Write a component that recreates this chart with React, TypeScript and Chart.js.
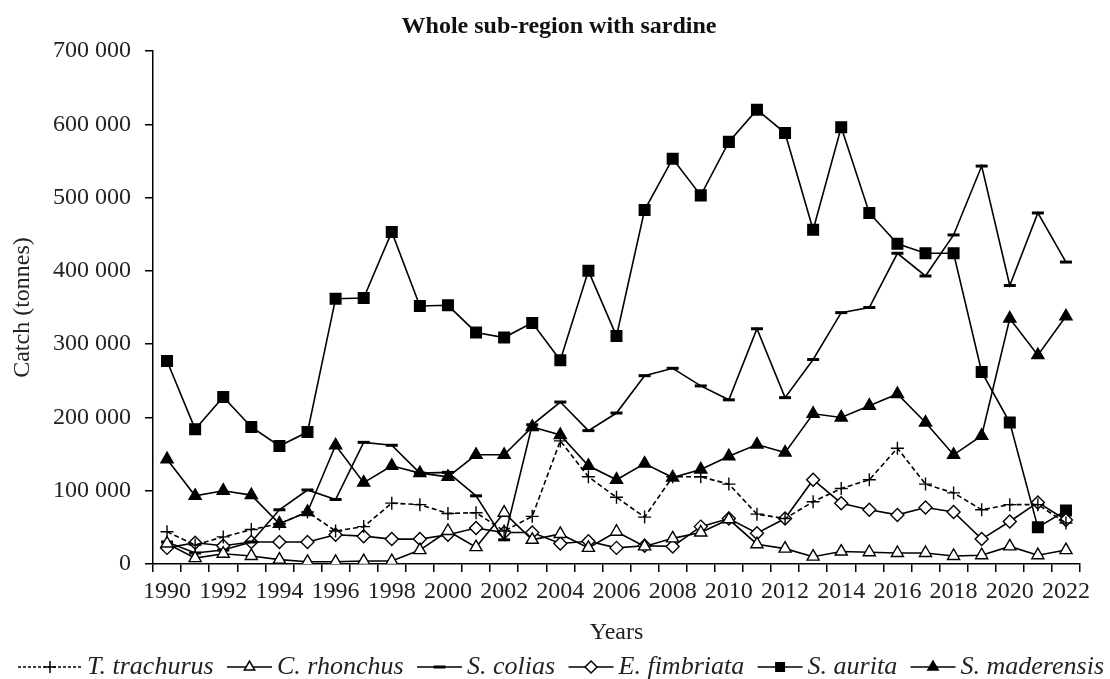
import React, { useEffect, useRef } from 'react';
import { Chart, registerables } from 'chart.js';

Chart.register(...registerables);

const FONT = "'Liberation Serif', 'Times New Roman', serif";

const years = [
  '1990', '1991', '1992', '1993', '1994', '1995', '1996', '1997', '1998', '1999',
  '2000', '2001', '2002', '2003', '2004', '2005', '2006', '2007', '2008', '2009',
  '2010', '2011', '2012', '2013', '2014', '2015', '2016', '2017', '2018', '2019',
  '2020', '2021', '2022',
];

const trachurus = [
  44000, 26000, 37000, 47000, 55000, 71000, 45000, 51000, 83000, 81000,
  69000, 70000, 45000, 65000, 168000, 119000, 91000, 64000, 119000, 119000,
  109000, 68000, 62000, 85000, 103000, 115000, 158000, 109000, 97000, 74000,
  81000, 81000, 56000,
];

const rhonchus = [
  28000, 8000, 14000, 11000, 6000, 3000, 3000, 4000, 4000, 19000,
  45000, 23000, 70000, 33000, 41000, 22000, 44000, 24000, 35000, 43000,
  61000, 27000, 21000, 10000, 17000, 16000, 15000, 15000, 11000, 12000,
  24000, 12000, 19000,
];

const colias = [
  30000, 15000, 19000, 30000, 74000, 101000, 88000, 166000, 162000, 124000,
  125000, 93000, 33000, 190000, 221000, 182000, 206000, 257000, 267000, 243000,
  224000, 321000, 227000, 279000, 343000, 350000, 424000, 393000, 449000, 543000,
  380000, 479000, 412000,
];

const fimbriata = [
  22000, 29000, 25000, 30000, 30000, 30000, 40000, 38000, 34000, 34000,
  40000, 49000, 43000, 43000, 28000, 31000, 22000, 25000, 24000, 51000,
  62000, 42000, 62000, 115000, 83000, 74000, 67000, 77000, 71000, 34000,
  58000, 84000, 60000,
];

const aurita = [
  277000, 184000, 228000, 187000, 161000, 180000, 362000, 363000, 453000, 352000,
  353000, 316000, 309000, 329000, 278000, 400000, 311000, 483000, 553000, 503000,
  576000, 620000, 588000, 456000, 596000, 479000, 437000, 424000, 424000, 262000,
  193000, 50000, 73000,
];

const maderensis = [
  143000, 93000, 100000, 94000, 55000, 71000, 162000, 111000, 134000, 124000,
  119000, 149000, 149000, 187000, 176000, 134000, 115000, 137000, 118000, 129000,
  147000, 163000, 152000, 205000, 200000, 216000, 232000, 193000, 149000, 175000,
  335000, 285000, 338000,
];

const yTickValues = [0, 100000, 200000, 300000, 400000, 500000, 600000, 700000];

const TITLE = 'Whole sub-region with sardine';

function drawMarker(ctx: CanvasRenderingContext2D, kind: string, x: number, y: number) {
  ctx.save();
  ctx.setLineDash([]);
  ctx.strokeStyle = '#000';
  ctx.lineWidth = 1.5;
  ctx.beginPath();
  if (kind === 'cross') {
    ctx.moveTo(x - 6, y); ctx.lineTo(x + 6, y);
    ctx.moveTo(x, y - 6); ctx.lineTo(x, y + 6);
    ctx.stroke();
  } else if (kind === 'triOpen' || kind === 'triFill') {
    const r = 6;
    ctx.moveTo(x, y - r);
    ctx.lineTo(x + r * 0.866, y + r * 0.5);
    ctx.lineTo(x - r * 0.866, y + r * 0.5);
    ctx.closePath();
    ctx.fillStyle = kind === 'triOpen' ? '#fff' : '#000';
    ctx.fill();
    ctx.stroke();
  } else if (kind === 'dash') {
    ctx.lineWidth = 3;
    ctx.moveTo(x - 6, y); ctx.lineTo(x + 6, y);
    ctx.stroke();
  } else if (kind === 'diamond') {
    const r = 6;
    ctx.moveTo(x, y - r); ctx.lineTo(x + r, y); ctx.lineTo(x, y + r); ctx.lineTo(x - r, y);
    ctx.closePath();
    ctx.fillStyle = '#fff';
    ctx.fill();
    ctx.stroke();
  } else if (kind === 'square') {
    ctx.fillStyle = '#000';
    ctx.fillRect(x - 5, y - 5, 10, 10);
  }
  ctx.restore();
}

const legendKinds = ['cross', 'triOpen', 'dash', 'diamond', 'square', 'triFill'];

const textPlugin = {
  id: 'textPlugin',
  afterDraw(chart: any) {
    const ctx: CanvasRenderingContext2D = chart.ctx;
    ctx.save();
    // title
    ctx.font = `bold 24px ${FONT}`;
    ctx.fillStyle = '#111';
    ctx.textAlign = 'center';
    ctx.textBaseline = 'alphabetic';
    ctx.fillText(TITLE, 559, 33);

    // legend
    ctx.font = `italic 26px ${FONT}`;
    ctx.textAlign = 'left';
    ctx.textBaseline = 'middle';
    const ds = chart.data.datasets;
    const sampleW = (i: number) => (i === 0 ? 64 : 45);
    const gapAfterSample = 5;
    let textTotal = 0;
    ds.forEach((d: any) => { textTotal += ctx.measureText(d.label).width; });
    let sampleTotal = 0;
    ds.forEach((_d: any, i: number) => { sampleTotal += sampleW(i) + gapAfterSample; });
    const left = 18;
    const right = 1104;
    const gapBetween = Math.max(8, (right - left - textTotal - sampleTotal) / (ds.length - 1));
    let x = left;
    const y = 667;
    ds.forEach((d: any, i: number) => {
      const w = sampleW(i);
      ctx.strokeStyle = '#000';
      ctx.lineWidth = 1.6;
      ctx.setLineDash(i === 0 ? [3, 2] : []);
      ctx.beginPath();
      ctx.moveTo(x, y);
      ctx.lineTo(x + w, y);
      ctx.stroke();
      ctx.setLineDash([]);
      drawMarker(ctx, legendKinds[i], x + w / 2, y);
      x += w + gapAfterSample;
      ctx.fillStyle = '#222';
      ctx.fillText(d.label, x, y);
      x += ctx.measureText(d.label).width + gapBetween;
    });
    ctx.restore();
  },
};

export default function App() {
  const ref = useRef<HTMLCanvasElement | null>(null);

  useEffect(() => {
    if (!ref.current) return;
    const common = {
      borderColor: '#000',
      borderWidth: 1.6,
      pointBorderColor: '#000',
      pointBorderWidth: 1.4,
      tension: 0,
      fill: false,
    };
    const chart = new Chart(ref.current, {
      type: 'line',
      data: {
        labels: years,
        datasets: [
          { ...common, label: 'T. trachurus', data: trachurus, borderDash: [5, 3], pointStyle: 'cross', pointRadius: 6.5, pointBackgroundColor: '#000' },
          { ...common, label: 'C. rhonchus', data: rhonchus, pointStyle: 'triangle', pointRadius: 7, pointBackgroundColor: '#fff' },
          { ...common, label: 'S. colias', data: colias, pointStyle: 'line', pointRadius: 6, pointBorderWidth: 3, pointBackgroundColor: '#000' },
          { ...common, label: 'E. fimbriata', data: fimbriata, pointStyle: 'rectRot', pointRadius: 6.5, pointBackgroundColor: '#fff' },
          { ...common, label: 'S. aurita', data: aurita, pointStyle: 'rect', pointRadius: 7.5, pointBackgroundColor: '#000' },
          { ...common, label: 'S. maderensis', data: maderensis, pointStyle: 'triangle', pointRadius: 7, pointBackgroundColor: '#000' },
        ],
      },
      options: {
        animation: false,
        responsive: false,
        maintainAspectRatio: false,
        events: [],
        layout: { padding: { top: 51, right: 30, bottom: 32, left: 0 } },
        plugins: {
          legend: { display: false },
          title: { display: false },
          tooltip: { enabled: false },
        },
        scales: {
          x: {
            type: 'category',
            offset: true,
            afterFit: (scale: any) => { scale.height = 83; },
            grid: {
              display: true,
              drawOnChartArea: false,
              drawTicks: true,
              tickLength: 8,
              offset: true,
              color: '#000',
              lineWidth: 1.5,
            },
            border: { display: true, color: '#000', width: 1.5 },
            ticks: {
              autoSkip: false,
              maxRotation: 0,
              minRotation: 0,
              padding: 5,
              color: '#222',
              font: { family: FONT, size: 24 },
              callback: (_v: any, i: number) => (i % 2 === 0 ? years[i] : ''),
            },
            title: {
              display: true,
              text: 'Years',
              color: '#222',
              font: { family: FONT, size: 24 },
              padding: { top: 0, bottom: 0 },
            },
          },
          y: {
            min: 0,
            max: 700000,
            afterFit: (scale: any) => { scale.width = 153; },
            afterBuildTicks: (scale: any) => { scale.ticks = yTickValues.map((v) => ({ value: v })); },
            grid: {
              display: true,
              drawOnChartArea: false,
              drawTicks: true,
              tickLength: 8,
              color: '#000',
              lineWidth: 1.5,
            },
            border: { display: true, color: '#000', width: 1.5 },
            ticks: {
              padding: 14,
              color: '#222',
              font: { family: FONT, size: 24 },
              callback: (v: any) => (v === 0 ? '0' : `${Math.round(v / 1000)} 000`),
            },
            title: {
              display: true,
              text: 'Catch (tonnes)',
              color: '#222',
              font: { family: FONT, size: 24 },
              padding: { top: 8, bottom: 0 },
            },
          },
        },
      },
      plugins: [textPlugin],
    } as any);
    return () => chart.destroy();
  }, []);

  return (
    <div style={{ position: 'absolute', left: 0, top: 0, width: 1110, height: 679, background: '#fff' }}>
      <canvas ref={ref} width={1110} height={679} style={{ display: 'block', width: 1110, height: 679 }} />
    </div>
  );
}
